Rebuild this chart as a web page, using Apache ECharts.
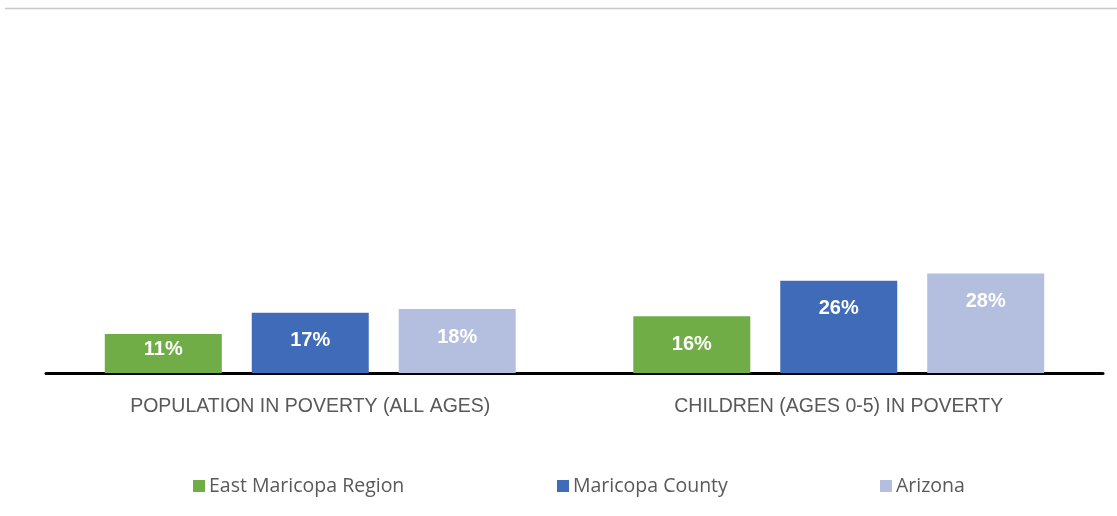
<!DOCTYPE html>
<html><head><meta charset="utf-8">
<script src="https://cdn.jsdelivr.net/npm/echarts@6/dist/echarts.min.js"></script>
<style>html,body{margin:0;padding:0;background:#fff}#c{width:1117px;height:516px}</style>
</head><body><div id="c"></div>
<script>
const categories = ['POPULATION IN POVERTY (ALL AGES)', 'CHILDREN (AGES 0-5) IN POVERTY'];
const seriesNames = ['East Maricopa Region', 'Maricopa County', 'Arizona'];
const eastMaricopa = [11, 16];
const maricopaCounty = [17, 26];
const arizona = [18, 28];
const colors = ['#70AD47', '#3F6BB8', '#B4BFE0'];
const FONT = 'Liberation Sans';

const chart = echarts.init(document.getElementById('c'));
function mk(name, vals, color) {
  return {
    name: name, type: 'bar',
    barWidth: 117, barGap: '25.6%',
    itemStyle: { color: color },
    data: vals.map(v => ({ value: v, label: v < 12 ? { distance: 6 } : {} })),
    label: {
      show: true, position: 'insideTop', distance: 18,
      color: '#fff', fontWeight: 'bold', fontSize: 20, fontFamily: FONT,
      formatter: p => p.value + '%'
    }
  };
}
const legendLefts = [193, 557, 880];
chart.setOption({
  animation: false,
  graphic: [{ type: 'line', shape: { x1: 5, y1: 8.5, x2: 1117, y2: 8.5 }, style: { stroke: '#c8c8c8', lineWidth: 1.5 } }],
  grid: { left: 46, right: 14, top: 18, bottom: 143 },
  legend: seriesNames.map((n, i) => ({
    left: legendLefts[i], top: 476, padding: 0, itemWidth: 12, itemHeight: 12, itemGap: 0,
    icon: 'rect',
    textStyle: { color: '#595959', fontSize: 19.5, fontFamily: 'Open Sans', padding: [0, 0, 0, -1] },
    data: [n]
  })),
  xAxis: {
    type: 'category', data: categories,
    axisLine: { lineStyle: { color: '#000', width: 3 } },
    axisTick: { show: false },
    axisLabel: { color: '#595959', fontSize: 19.5, fontFamily: FONT, margin: 24 }
  },
  yAxis: { type: 'value', min: 0, max: 100, show: false, splitLine: { show: false } },
  series: [
    mk(seriesNames[0], eastMaricopa, colors[0]),
    mk(seriesNames[1], maricopaCounty, colors[1]),
    mk(seriesNames[2], arizona, colors[2])
  ]
});
</script></body></html>
